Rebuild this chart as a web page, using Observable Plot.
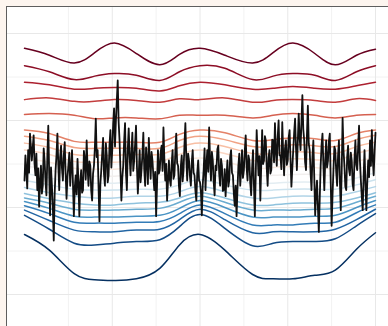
<!DOCTYPE html>
<html><head><meta charset="utf-8">
<script src="https://cdn.jsdelivr.net/npm/d3@7"></script>
<script src="https://cdn.jsdelivr.net/npm/@observablehq/plot@0.6"></script>
<style>
html,body{margin:0;padding:0;background:#fdf5ef;overflow:hidden;width:388px;height:326px;}
#chart{position:absolute;left:6px;top:6px;}
#chart svg{display:block;background:#fff;border-left:1.4px solid #5e5e5e;border-top:1.4px solid #5e5e5e;}
</style></head><body><div id="chart"></div>
<script>
// knot times (hours) shared by all quantile lines
const knotHours = [0,3.4,6.8,9.6,12.3,15.3,18.5,21.2,24,27.4,31.2,34,36.7,39.7,42.5,45.4,48];
// quantile lines, top (highest) to bottom (lowest)
const q01 = [28.3,27.5,26.6,27.8,28.9,27.7,26.4,27.6,28.3,27.5,26.6,27.8,28.9,27.7,26.4,27.5,28.2];
const q02 = [26.3,25.6,24.7,25.1,25.4,25.2,24.6,25.6,26.3,26.0,24.7,25.1,25.4,25.2,24.6,25.6,26.3];
const q03 = [24.4,24.1,23.6,23.7,23.8,23.7,23.4,24.0,24.4,24.1,23.6,23.7,23.9,23.7,23.6,24.0,24.4];
const q04 = [22.4,22.6,22.2,22.2,22.4,22.3,22.1,22.5,22.4,22.6,22.1,22.3,22.4,22.3,22.1,22.5,22.3];
const q05 = [20.7,20.8,20.6,20.2,20.3,20.3,20.2,20.6,20.6,20.6,20.3,20.6,20.8,20.6,20.3,20.6,20.7];
const q06 = [18.9,18.5,17.6,17.5,17.5,17.5,17.5,18.4,18.9,18.6,17.7,17.8,18.0,17.9,17.7,18.5,18.9];
const q07 = [18.2,17.7,16.9,16.8,16.8,16.8,16.8,17.7,18.2,17.8,17.0,17.0,17.2,17.1,17.0,17.8,18.3];
const q08 = [17.4,16.9,16.1,16.0,16.0,16.1,16.1,16.9,17.4,17.0,16.2,16.2,16.4,16.3,16.2,17.0,17.5];
const q09 = [16.6,16.1,15.3,15.2,15.2,15.3,15.3,16.1,16.6,16.2,15.4,15.4,15.6,15.5,15.4,16.2,16.7];
const q10 = [15.6,15.2,14.5,14.4,14.4,14.5,14.5,15.3,15.7,15.3,14.5,14.6,14.7,14.6,14.5,15.3,15.7];
const q11 = [14.8,14.3,13.7,13.6,13.6,13.7,13.7,14.4,14.9,14.4,13.7,13.7,13.8,13.8,13.7,14.4,14.9];
const q12 = [13.9,13.4,12.9,12.8,12.8,12.9,12.9,13.4,14.0,13.4,12.8,12.8,12.9,12.9,12.9,13.4,14.0];
const q13 = [13.1,12.6,12.1,12.0,12.0,12.1,12.1,12.6,13.2,12.6,12.0,12.0,12.1,12.1,12.1,12.6,13.2];
const q14 = [12.3,11.7,11.3,11.1,11.1,11.3,11.3,11.8,12.4,11.8,11.1,11.1,11.3,11.3,11.3,11.8,12.4];
const q15 = [11.6,11.0,10.5,10.3,10.3,10.5,10.6,11.1,11.7,11.1,10.3,10.3,10.5,10.5,10.6,11.1,11.7];
const q16 = [11.1,10.5,9.8,9.7,9.7,9.8,9.9,10.6,11.3,10.6,9.7,9.7,9.7,9.8,9.9,10.6,11.3];
const q17 = [10.7,9.9,9.0,8.9,8.9,9.0,9.1,9.9,10.8,10.0,8.9,8.9,8.9,9.0,9.1,10.0,10.8];
const q18 = [10.2,9.3,8.3,8.2,8.2,8.3,8.4,9.3,10.3,9.3,8.0,8.0,8.0,8.2,8.3,9.4,10.3];
const q19 = [9.7,8.5,7.4,7.2,7.2,7.4,7.5,8.6,9.8,8.6,7.1,7.2,7.2,7.2,7.5,8.6,9.8];
const q20 = [9.1,7.5,5.9,5.7,5.9,6.1,6.3,7.8,9.2,7.6,5.6,5.9,6.1,6.1,6.4,7.9,9.3];
const q21 = [6.9,5.1,2.4,1.7,1.6,1.8,3.0,5.7,6.9,5.1,2.3,1.8,1.8,2.2,2.8,5.2,7.1];
const quantileLines = [q01,q02,q03,q04,q05,q06,q07,q08,q09,q10,q11,q12,q13,q14,q15,q16,q17,q18,q19,q20,q21];

// observed series, one value every 7.5 minutes from hour 0 to 48
const obsStepHours = 0.125;
const observed = [
13.1,16.0,14.3,12.2,16.6,14.0,18.5,17.0,15.4,16.9,18.3,15.0,13.7,16.2,12.0,14.5,10.1,12.8,14.8,11.6,
12.5,16.8,15.4,13.0,11.4,15.9,19.4,14.0,9.1,14.6,12.5,10.0,6.2,11.5,14.3,16.0,18.5,14.9,12.0,15.8,
17.1,14.5,13.1,16.0,17.5,13.9,11.0,13.5,14.8,16.3,12.5,14.6,16.6,12.8,9.0,12.3,13.7,11.5,15.6,13.0,
9.0,12.9,14.3,11.7,12.0,16.5,15.4,13.2,17.7,14.6,12.5,15.3,14.8,11.9,10.8,13.9,14.8,16.9,20.2,15.8,
16.6,12.4,8.4,12.7,14.3,16.2,18.0,13.8,12.5,17.4,16.0,12.9,13.7,17.2,18.9,14.6,16.6,19.6,21.4,17.0,
20.0,22.3,24.6,19.8,17.7,14.2,10.8,13.4,14.8,17.6,19.7,14.0,12.0,16.7,19.1,15.9,13.7,16.4,18.6,14.2,
15.4,17.3,19.4,14.7,11.6,13.8,16.6,12.9,14.3,16.1,18.6,14.4,12.5,16.9,15.4,12.7,18.0,15.5,13.3,16.4,
15.4,13.6,12.0,14.1,9.0,12.6,16.6,13.9,14.3,16.4,17.1,14.2,19.2,15.6,13.1,15.0,10.8,13.0,15.4,13.2,
12.5,15.0,16.6,13.3,13.7,16.3,18.5,15.1,14.8,12.4,11.3,14.7,16.0,13.0,14.3,17.2,19.7,15.7,13.1,16.2,
15.4,13.6,12.5,15.2,16.6,14.0,13.7,11.9,10.8,14.0,15.4,13.1,12.9,11.8,9.1,12.6,14.3,16.8,12.0,14.9,
16.6,14.1,19.2,15.5,13.1,16.4,15.4,12.9,11.4,14.8,14.3,16.7,17.1,13.9,12.5,15.6,14.8,11.9,12.0,14.4,
11.3,13.5,15.4,12.4,13.1,15.8,16.6,14.0,13.7,11.6,10.2,12.5,9.0,12.1,14.8,16.2,12.5,14.2,16.6,13.4,
14.3,16.5,18.3,14.6,13.1,16.0,15.4,12.8,11.4,14.5,16.6,12.6,9.0,13.8,18.9,16.2,13.7,15.9,10.8,14.9,
18.9,15.0,15.4,18.2,17.7,14.6,12.5,15.7,16.6,13.9,14.3,17.8,17.7,15.2,19.7,16.4,14.8,18.1,20.0,16.0,
16.0,14.4,19.8,16.3,13.7,16.8,17.7,14.9,15.4,18.0,18.9,15.6,12.4,14.5,16.6,18.6,20.2,16.9,14.3,17.6,
20.8,18.0,16.6,19.9,22.9,19.0,17.7,15.2,14.3,18.4,21.7,17.3,16.6,14.0,12.0,15.8,17.7,13.5,9.1,11.6,
13.1,10.0,7.2,11.0,14.8,17.2,18.5,14.9,12.0,15.3,17.7,14.6,15.4,17.6,18.5,13.0,7.9,11.4,14.3,17.0,
16.6,14.1,12.5,15.9,17.7,13.2,9.7,14.0,20.3,16.6,14.8,12.4,12.0,15.8,17.1,14.4,13.7,16.3,15.4,12.7,
12.0,15.5,17.7,14.9,14.3,17.0,19.4,15.3,13.1,11.2,9.7,13.6,16.6,12.6,9.7,12.9,15.4,13.5,17.7,14.8,
18.9,15.6,13.7,16.4,18.6
];

const xMajor = [12,24,36,48];
const xMinor = [6,18,30,42];
const yMajor = [0,10,20,30];
const yMinor = [5,15,25];

const quantRows = quantileLines.flatMap((vals, li) => vals.map((v, k) => ({hour: knotHours[k], value: v, line: li})));
const obsRows = observed.map((v, i) => ({hour: i * obsStepHours, value: v}));
const lineColors = quantileLines.map((_, i) => d3.interpolateRdBu(i / (quantileLines.length - 1)));

const chart = Plot.plot({
  width: 381,
  height: 319,
  marginLeft: 17,
  marginRight: 13,
  marginTop: 26,
  marginBottom: 32,
  style: {background: "#fff", overflow: "hidden"},
  x: {domain: [0, 48], axis: null},
  y: {domain: [0, 30], axis: null},
  color: {type: "ordinal", domain: d3.range(quantileLines.length), range: lineColors},
  marks: [
    Plot.ruleX(xMinor, {stroke: "#f2f2f2", strokeWidth: 1, y1: -5, y2: 40}),
    Plot.ruleY(yMinor, {stroke: "#f2f2f2", strokeWidth: 1, x1: -5, x2: 55}),
    Plot.ruleX(xMajor, {stroke: "#e8e8e8", strokeWidth: 1, y1: -5, y2: 40}),
    Plot.ruleY(yMajor, {stroke: "#e8e8e8", strokeWidth: 1, x1: -5, x2: 55}),
    Plot.line(quantRows, {x: "hour", y: "value", z: "line", stroke: "line", strokeWidth: 1.5, curve: "natural"}),
    Plot.line(obsRows, {x: "hour", y: "value", stroke: "#111", strokeWidth: 1.8})
  ]
});
document.getElementById("chart").appendChild(chart);
</script></body></html>
